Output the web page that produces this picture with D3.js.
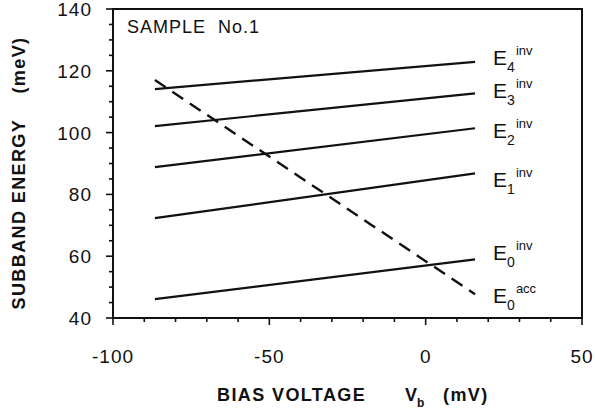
<!DOCTYPE html>
<html>
<head>
<meta charset="utf-8">
<script src="https://cdn.jsdelivr.net/npm/d3@7"></script>
<style>
  body { margin: 0; background: #fff; }
  text { font-family: "Liberation Sans", Arial, sans-serif; fill: #111; }
</style>
</head>
<body>
<div id="chart"></div>
<script>
// subband energies vs bias voltage
var levels = ["E4", "E3", "E2", "E1", "E0"];
var subs = ["4", "3", "2", "1", "0"];
var vStart = -86.6, vEnd = 15.8;
var eStart = [114.1, 102.1, 88.8, 72.3, 46.1];
var eEnd = [122.9, 112.7, 101.4, 86.8, 59.0];
// accumulation level (dashed)
var accStart = 117.0, accEnd = 47.7;
// label baselines, in meV
var labelY = [121.9, 111.2, 98.4, 82.4, 58.8];
var accLabelY = 44.9;

var xTicks = [-100, -50, 0, 50];
var yTicks = [40, 60, 80, 100, 120, 140];

var margin = {top: 9, right: 13, bottom: 96, left: 113},
    width = 595 - margin.left - margin.right,
    height = 414 - margin.top - margin.bottom;

var x = d3.scaleLinear().domain([-100, 50]).range([0, width]);
var y = d3.scaleLinear().domain([40, 140]).range([height, 0]);

var svg = d3.select("#chart").append("svg")
    .attr("width", 595)
    .attr("height", 414)
    .append("g")
    .attr("transform", "translate(" + margin.left + "," + margin.top + ")");

// frame
svg.append("rect")
    .attr("width", width)
    .attr("height", height)
    .attr("fill", "none")
    .attr("stroke", "#111")
    .attr("stroke-width", 2);

// minor ticks
var xMinor = d3.range(-100, 51, 10);
var yMinor = d3.range(40, 141, 5);

svg.append("g").selectAll("line")
    .data(xMinor)
    .enter().append("line")
    .attr("x1", function(d) { return x(d); })
    .attr("x2", function(d) { return x(d); })
    .attr("y1", height)
    .attr("y2", function(d) { return xTicks.indexOf(d) >= 0 ? height + 7 : height + 4; })
    .attr("stroke", "#111")
    .attr("stroke-width", 1.6);

svg.append("g").selectAll("line")
    .data(yMinor)
    .enter().append("line")
    .attr("y1", function(d) { return y(d); })
    .attr("y2", function(d) { return y(d); })
    .attr("x1", 0)
    .attr("x2", function(d) { return yTicks.indexOf(d) >= 0 ? -7 : -4; })
    .attr("stroke", "#111")
    .attr("stroke-width", 1.6);

// tick labels
svg.append("g").selectAll("text")
    .data(xTicks)
    .enter().append("text")
    .attr("x", function(d) { return x(d); })
    .attr("y", height + 45)
    .attr("text-anchor", "middle")
    .style("font-size", "19px")
    .style("letter-spacing", "1px")
    .text(function(d) { return d; });

svg.append("g").selectAll("text")
    .data(yTicks)
    .enter().append("text")
    .attr("x", -21)
    .attr("y", function(d) { return y(d) + 7; })
    .attr("text-anchor", "end")
    .style("font-size", "19px")
    .style("letter-spacing", "1px")
    .text(function(d) { return d; });

// axis titles
var xt = svg.append("text")
    .attr("x", 104)
    .attr("y", 392)
    .style("font-size", "18px")
    .style("font-weight", "bold")
    .style("letter-spacing", "1.4px")
    .text("BIAS VOLTAGE");
svg.append("text")
    .attr("x", 292)
    .attr("y", 392)
    .style("font-size", "18px")
    .style("font-weight", "bold")
    .text("V")
    .append("tspan")
    .attr("dy", 6)
    .style("font-size", "12px")
    .text("b");

svg.append("text")
    .attr("x", 330)
    .attr("y", 392)
    .style("font-size", "18px")
    .style("font-weight", "bold")
    .style("letter-spacing", "1.4px")
    .text("(mV)");

svg.append("text")
    .attr("transform", "translate(-88," + 164 + ") rotate(-90)")
    .attr("text-anchor", "middle")
    .style("font-size", "18px")
    .style("font-weight", "bold")
    .style("letter-spacing", "1.4px")
    .attr("xml:space", "preserve")
    .text("SUBBAND ENERGY    (meV)");

svg.append("text")
    .attr("x", 14)
    .attr("y", 24)
    .style("font-size", "18px")
    .style("letter-spacing", "1px")
    .attr("xml:space", "preserve")
    .text("SAMPLE  No.1");

// level lines
var line = d3.line()
    .x(function(d) { return x(d[0]); })
    .y(function(d) { return y(d[1]); });

svg.append("g").selectAll("path")
    .data(levels)
    .enter().append("path")
    .attr("d", function(d, i) { return line([[vStart, eStart[i]], [vEnd, eEnd[i]]]); })
    .attr("fill", "none")
    .attr("stroke", "#111")
    .attr("stroke-width", 2.2);

svg.append("path")
    .attr("d", line([[vStart, accStart], [vEnd, accEnd]]))
    .attr("fill", "none")
    .attr("stroke", "#111")
    .attr("stroke-width", 2.4)
    .attr("stroke-dasharray", "13,8");

// level labels
function addLabel(yv, sub, sup) {
    var t = svg.append("text")
        .attr("x", x(vEnd) + 18)
        .attr("y", y(yv))
        .style("font-size", "21px")
        .text("E");
    t.append("tspan")
        .attr("dy", 7)
        .style("font-size", "14px")
        .text(sub);
    t.append("tspan")
        .attr("dx", 1)
        .attr("dy", -17)
        .style("font-size", "13px")
        .text(sup);
}

levels.forEach(function(d, i) { addLabel(labelY[i], subs[i], "inv"); });
addLabel(accLabelY, "0", "acc");
</script>
</body>
</html>
